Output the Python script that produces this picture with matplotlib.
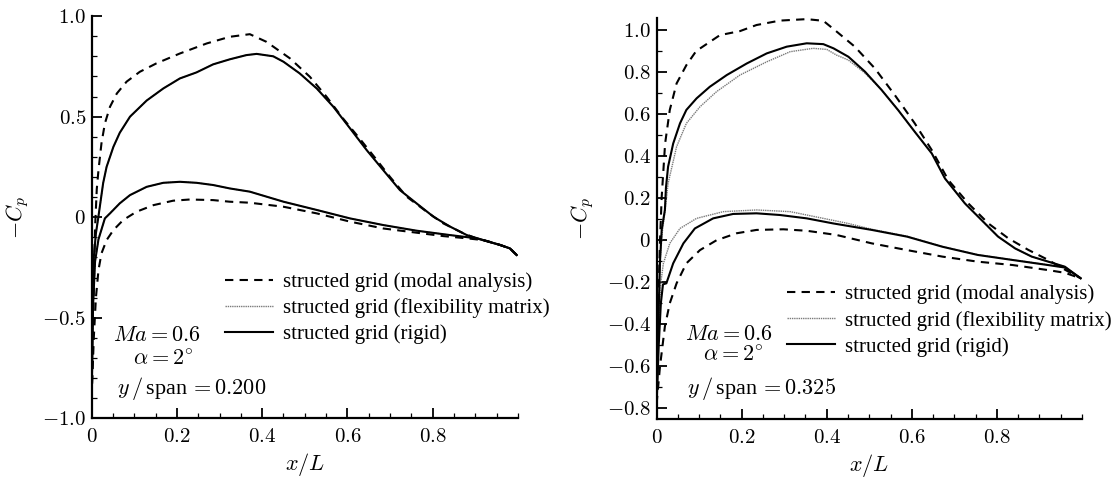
"""
-Cp distributions at two span stations of the elastic wing
(modal analysis vs flexibility matrix vs rigid), Ma=0.6, alpha=2 deg.
"""

import matplotlib

matplotlib.use("Agg")
import matplotlib.pyplot as plt
from matplotlib.ticker import FixedLocator, FuncFormatter, MultipleLocator

# ---- y/span = 0.200 ----------------------------------------------------
s200_rigid_up_x = [0.0, 0.002, 0.005, 0.010, 0.015, 0.019, 0.027, 0.035, 0.043, 0.051,
                   0.066, 0.090, 0.129, 0.168, 0.207, 0.246, 0.285, 0.324, 0.363, 0.387,
                   0.426, 0.450, 0.488, 0.528, 0.567, 0.606, 0.645, 0.684, 0.723, 0.762,
                   0.802, 0.841, 0.880, 0.919, 0.958, 0.981, 0.997]
s200_rigid_up_y = [-0.90, -0.55, -0.20, -0.08, -0.01, 0.05, 0.17, 0.25, 0.30, 0.35,
                   0.42, 0.50, 0.58, 0.64, 0.69, 0.72, 0.76, 0.785, 0.806, 0.812,
                   0.800, 0.773, 0.715, 0.640, 0.549, 0.442, 0.334, 0.234, 0.135, 0.069,
                   0.002, -0.047, -0.089, -0.114, -0.138, -0.155, -0.188]
s200_rigid_lo_x = [0.0, 0.003, 0.008, 0.016, 0.031, 0.043, 0.066, 0.090, 0.129, 0.168,
                   0.207, 0.246, 0.285, 0.324, 0.371, 0.450, 0.528, 0.606, 0.684, 0.762,
                   0.841, 0.903, 0.958, 0.981, 0.997]
s200_rigid_lo_y = [-0.90, -0.45, -0.22, -0.11, -0.006, 0.019, 0.069, 0.110, 0.151, 0.171,
                   0.176, 0.171, 0.160, 0.143, 0.127, 0.077, 0.036, -0.006, -0.039, -0.067,
                   -0.089, -0.105, -0.138, -0.155, -0.188]
# flexibility-matrix result lies on top of the rigid one at this station
s200_flex_up_x, s200_flex_up_y = s200_rigid_up_x, s200_rigid_up_y
s200_flex_lo_x, s200_flex_lo_y = s200_rigid_lo_x, s200_rigid_lo_y
s200_modal_up_x = [0.0, 0.004, 0.008, 0.012, 0.016, 0.023, 0.031, 0.043, 0.059, 0.082,
                   0.113, 0.152, 0.207, 0.270, 0.324, 0.371, 0.410, 0.465, 0.512, 0.551,
                   0.590, 0.629, 0.669, 0.700, 0.739, 0.786, 0.825, 0.872, 0.903, 0.930,
                   0.958, 0.981, 0.997]
s200_modal_up_y = [-0.90, -0.45, -0.05, 0.14, 0.234, 0.367, 0.466, 0.549, 0.615, 0.674,
                   0.723, 0.765, 0.814, 0.864, 0.897, 0.910, 0.872, 0.790, 0.698, 0.599,
                   0.490, 0.390, 0.284, 0.200, 0.102, 0.027, -0.031, -0.080, -0.106, -0.120,
                   -0.138, -0.155, -0.188]
s200_modal_lo_x = [0.0, 0.005, 0.010, 0.016, 0.023, 0.035, 0.051, 0.074, 0.105, 0.145,
                   0.191, 0.230, 0.285, 0.324, 0.371, 0.450, 0.528, 0.606, 0.684, 0.762,
                   0.825, 0.880, 0.919, 0.958, 0.981, 0.997]
s200_modal_lo_y = [-0.90, -0.60, -0.40, -0.263, -0.18, -0.114, -0.064, -0.014, 0.027, 0.060,
                   0.082, 0.088, 0.085, 0.077, 0.072, 0.052, 0.019, -0.022, -0.056, -0.077,
                   -0.094, -0.105, -0.114, -0.138, -0.155, -0.188]

# ---- y/span = 0.325 ----------------------------------------------------
s325_rigid_up_x = [0.0, 0.004, 0.008, 0.012, 0.0195, 0.022, 0.027, 0.039, 0.055, 0.070,
                   0.094, 0.125, 0.165, 0.212, 0.259, 0.306, 0.353, 0.392, 0.416, 0.451,
                   0.490, 0.529, 0.568, 0.607, 0.647, 0.678, 0.725, 0.764, 0.803, 0.843,
                   0.882, 0.921, 0.960, 0.997]
s325_rigid_up_y = [-0.78, -0.40, -0.10, 0.05, 0.144, 0.25, 0.35, 0.46, 0.556, 0.62,
                   0.675, 0.73, 0.786, 0.841, 0.889, 0.921, 0.937, 0.933, 0.913, 0.873,
                   0.802, 0.715, 0.619, 0.516, 0.413, 0.294, 0.175, 0.096, 0.017, -0.039,
                   -0.078, -0.102, -0.126, -0.181]
s325_rigid_lo_x = [0.0, 0.005, 0.010, 0.015, 0.023, 0.039, 0.063, 0.090, 0.133, 0.180,
                   0.235, 0.290, 0.353, 0.415, 0.506, 0.589, 0.672, 0.755, 0.837, 0.920,
                   0.960, 0.997]
s325_rigid_lo_y = [-0.78, -0.50, -0.30, -0.21, -0.205, -0.11, -0.015, 0.056, 0.104, 0.125,
                   0.128, 0.120, 0.104, 0.080, 0.049, 0.017, -0.031, -0.070, -0.094, -0.118,
                   -0.130, -0.181]
s325_flex_up_x = [0.0, 0.004, 0.008, 0.014, 0.020, 0.027, 0.047, 0.070, 0.102, 0.141,
                  0.196, 0.259, 0.314, 0.368, 0.400, 0.423, 0.451, 0.490, 0.529, 0.568,
                  0.607, 0.647, 0.678, 0.725, 0.764, 0.803, 0.843, 0.882, 0.921, 0.960,
                  0.997]
s325_flex_up_y = [-0.78, -0.40, -0.10, 0.05, 0.14, 0.27, 0.445, 0.556, 0.635, 0.707,
                  0.786, 0.849, 0.897, 0.913, 0.908, 0.881, 0.857, 0.795, 0.715, 0.619,
                  0.516, 0.413, 0.294, 0.175, 0.096, 0.017, -0.039, -0.078, -0.102, -0.126,
                  -0.181]
s325_flex_lo_x = [0.0, 0.005, 0.010, 0.016, 0.031, 0.055, 0.094, 0.157, 0.235, 0.314,
                  0.392, 0.450, 0.506, 0.589, 0.672, 0.755, 0.837, 0.920, 0.960, 0.997]
s325_flex_lo_y = [-0.78, -0.40, -0.20, -0.11, -0.015, 0.056, 0.104, 0.136, 0.144, 0.136,
                  0.104, 0.080, 0.052, 0.019, -0.030, -0.069, -0.093, -0.117, -0.130, -0.181]
s325_modal_up_x = [0.0, 0.004, 0.008, 0.012, 0.020, 0.031, 0.047, 0.070, 0.093, 0.149,
                   0.196, 0.235, 0.290, 0.353, 0.392, 0.419, 0.466, 0.513, 0.560, 0.607,
                   0.647, 0.686, 0.733, 0.780, 0.827, 0.874, 0.921, 0.960, 0.997]
s325_modal_up_y = [-0.78, -0.30, 0.0, 0.207, 0.46, 0.62, 0.746, 0.833, 0.90, 0.976,
                   0.995, 1.024, 1.045, 1.052, 1.044, 1.0, 0.921, 0.818, 0.691, 0.556,
                   0.429, 0.286, 0.175, 0.080, 0.009, -0.046, -0.094, -0.140, -0.181]
s325_modal_lo_x = [0.0, 0.008, 0.0195, 0.031, 0.047, 0.070, 0.102, 0.141, 0.188, 0.235,
                   0.298, 0.353, 0.423, 0.506, 0.589, 0.672, 0.755, 0.837, 0.920, 0.960,
                   0.997]
s325_modal_lo_y = [-0.78, -0.60, -0.41, -0.30, -0.205, -0.11, -0.047, 0.0, 0.033, 0.049,
                   0.052, 0.045, 0.025, -0.015, -0.047, -0.078, -0.102, -0.118, -0.142, -0.155,
                   -0.181]

legend_labels = ["structed grid (modal analysis)",
                 "structed grid (flexibility matrix)",
                 "structed grid (rigid)"]
span_labels = ["0.200", "0.325"]
left_yticks = [-1.0, -0.5, 0.0, 0.5, 1.0]
right_yticks = [-0.8, -0.6, -0.4, -0.2, 0.0, 0.2, 0.4, 0.6, 0.8, 1.0]
xticks = [0.0, 0.2, 0.4, 0.6, 0.8]

plt.rcParams["font.family"] = ["Liberation Serif", "DejaVu Serif"]
plt.rcParams["mathtext.fontset"] = "cm"
plt.rcParams["font.size"] = 15

MODAL = dict(color="black", lw=1.5, linestyle=(0, (4, 3)))
FLEX = dict(color="#7a7a7a", lw=1.0, linestyle=(0, (1, 0.6)))
RIGID = dict(color="black", lw=1.5, linestyle="-")


def fmt_tick(v, _pos):
    if abs(v) < 1e-9:
        return "$0$"
    return "$%.1f$" % v


def draw_panel(ax, curves, yticks, ylim, span, legend_anchor, text_pos):
    modal, flex, rigid = curves
    for (xs, ys) in flex:
        ax.plot(xs, ys, **FLEX)
    for (xs, ys) in rigid:
        ax.plot(xs, ys, **RIGID)
    for (xs, ys) in modal:
        ax.plot(xs, ys, **MODAL)

    ax.set_xlim(0, 1.0)
    ax.set_ylim(*ylim)
    ax.xaxis.set_major_locator(FixedLocator(xticks))
    ax.xaxis.set_minor_locator(MultipleLocator(0.05))
    ax.yaxis.set_major_locator(FixedLocator(yticks))
    ax.yaxis.set_minor_locator(MultipleLocator(0.1))
    ax.xaxis.set_major_formatter(FuncFormatter(fmt_tick))
    ax.yaxis.set_major_formatter(FuncFormatter(fmt_tick))
    ax.tick_params(which="major", direction="in", length=7.2, width=1.3, labelsize=15, pad=4)
    ax.tick_params(which="minor", direction="in", length=3.6, width=0.9)
    ax.tick_params(axis="x", which="major", pad=7)
    for side in ("top", "right"):
        ax.spines[side].set_visible(False)
    for side in ("left", "bottom"):
        ax.spines[side].set_linewidth(1.6)

    ax.set_xlabel("$x/L$", fontsize=16, labelpad=3)
    ax.set_ylabel("$-C_p$", fontsize=16, labelpad=8)

    handles = [
        plt.Line2D([], [], **MODAL),
        plt.Line2D([], [], **FLEX),
        plt.Line2D([], [], **RIGID),
    ]
    ax.legend(handles, legend_labels, loc="center left", bbox_to_anchor=legend_anchor,
              frameon=False, fontsize=15, handlelength=2.3, handletextpad=0.5,
              labelspacing=0.3, borderpad=0, borderaxespad=0)

    (mx, my), (ax_, ay), (sx, sy) = text_pos
    ax.text(mx, my, r"$Ma = 0.6$", transform=ax.transAxes, va="center", fontsize=16)
    ax.text(ax_, ay, r"$\alpha = 2^{\circ}$", transform=ax.transAxes, va="center", fontsize=16)
    ax.text(sx, sy, r"$y\,/\,$span$\,= %s$" % span, transform=ax.transAxes,
            va="center", fontsize=16)


def main():
    fig = plt.figure(figsize=(11.11, 4.8), dpi=100)
    ax1 = fig.add_axes([0.0825, 0.1285, 0.3837, 0.838])
    ax2 = fig.add_axes([0.591, 0.1265, 0.3828, 0.8354])

    draw_panel(
        ax1,
        (
            [(s200_modal_up_x, s200_modal_up_y), (s200_modal_lo_x, s200_modal_lo_y)],
            [(s200_flex_up_x, s200_flex_up_y), (s200_flex_lo_x, s200_flex_lo_y)],
            [(s200_rigid_up_x, s200_rigid_up_y), (s200_rigid_lo_x, s200_rigid_lo_y)],
        ),
        left_yticks, (-1.0, 1.0), span_labels[0],
        (0.313, 0.273),
        ((0.051, 0.203), (0.098, 0.145), (0.059, 0.075)),
    )
    draw_panel(
        ax2,
        (
            [(s325_modal_up_x, s325_modal_up_y), (s325_modal_lo_x, s325_modal_lo_y)],
            [(s325_flex_up_x, s325_flex_up_y), (s325_flex_lo_x, s325_flex_lo_y)],
            [(s325_rigid_up_x, s325_rigid_up_y), (s325_rigid_lo_x, s325_rigid_lo_y)],
        ),
        right_yticks, (-0.852, 1.056), span_labels[1],
        (0.306, 0.246),
        ((0.0665, 0.21), (0.109, 0.156), (0.0705, 0.078)),
    )

    fig.savefig("out.png", dpi=100)


if __name__ == "__main__":
    main()
